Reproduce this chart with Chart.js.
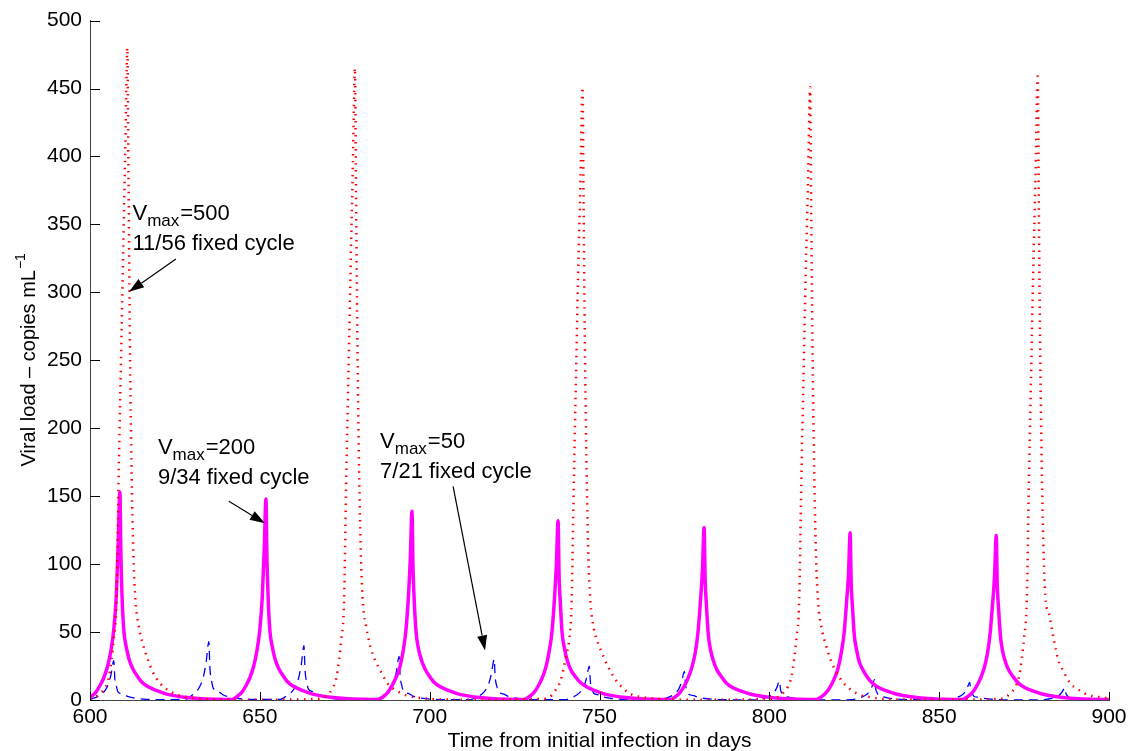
<!DOCTYPE html>
<html>
<head>
<meta charset="utf-8">
<script src="https://cdn.jsdelivr.net/npm/chart.js@4.4.0/dist/chart.umd.min.js"></script>
<style>
  html, body { margin: 0; padding: 0; background: #fff; }
  #wrap { width: 1135px; height: 751px; position: relative; }
</style>
</head>
<body>
<div id="wrap"><canvas id="viralChart"></canvas></div>
<script>
// Vmax = 500, 11/56 fixed cycle (red dotted)
const redDays = [
  600, 601, 603, 604.5, 605.5, 606.3, 607, 607.8, 608.4, 609, 609.7, 610.4, 611, 611.3, 611.7, 612.2, 612.8, 613.4, 614.3, 615.7, 617, 618.4, 620.7, 622.8, 625.5, 629, 633, 646,
  667, 668, 670, 671.5, 672.5, 673.3, 674, 674.8, 675.4, 676, 676.7, 677.4, 678, 678.3, 678.7, 679.2, 679.8, 680.4, 681.3, 682.7, 684, 685.4, 687.7, 689.8, 692.5, 696, 700, 713,
  734, 735, 737, 738.5, 739.5, 740.3, 741, 741.8, 742.4, 743, 743.7, 744.4, 745, 745.3, 745.7, 746.2, 746.8, 747.4, 748.3, 749.7, 751, 752.4, 754.7, 756.8, 759.5, 763, 767, 780,
  801, 802, 804, 805.5, 806.5, 807.3, 808, 808.8, 809.4, 810, 810.7, 811.4, 812, 812.3, 812.7, 813.2, 813.8, 814.4, 815.3, 816.7, 818, 819.4, 821.7, 823.8, 826.5, 830, 834, 846,
  868, 869, 871, 872.5, 873.5, 874.3, 875, 875.8, 876.4, 877, 877.7, 878.4, 879, 879.3, 879.7, 880.2, 880.8, 881.4, 882.3, 883.7, 885, 886.4, 888.7, 890.8, 893.5, 897, 900
];
const redLoad = [
  0.8, 1.2, 5, 9, 16, 29, 45, 73, 160, 235, 320, 408, 480, 394, 278, 175, 105, 73, 55, 40, 30, 21, 12, 7.5, 4, 2, 0.8, 0.2,
  0.8, 1.5, 4, 9, 16, 29, 45, 73, 158, 230, 315, 395, 465, 381, 270, 172, 103, 70, 54, 38, 29, 22, 12, 7.5, 4, 2, 0.8, 0.2,
  1, 1.5, 7, 14, 24, 34, 43, 73, 155, 228, 312, 383, 451, 370, 262, 168, 100, 70, 53, 41, 33, 25, 15, 9, 4, 2, 0.9, 0.2,
  0.8, 1.4, 5, 10, 17, 30, 46, 74, 158, 230, 313, 383, 451, 370, 262, 170, 102, 71, 54, 40, 30, 22, 13, 8, 4, 2, 0.8, 0.2,
  0.8, 1.4, 5, 10, 17, 30, 46, 74, 158, 232, 316, 390, 459, 376, 266, 173, 104, 72, 64, 45, 30, 22, 12, 8, 4, 2.2, 1.2
];

// Vmax = 200, 9/34 fixed cycle (magenta solid)
const magDays = [
  600, 601.8, 603, 604, 605.2, 606.2, 607, 607.7, 608.3, 608.8, 609.1, 609.5, 610, 610.6, 611.5, 612.6, 613.8, 615.3, 617.3, 619.5, 622.3, 624.8, 627.8, 631.8, 636.8,
  641.8, 643.3, 644.8, 646, 647, 648.2, 649.2, 650, 650.7, 651.3, 651.8, 652.1, 652.5, 653, 653.6, 654.5, 655.6, 656.8, 658.3, 660.3, 662.5, 665.3, 667.8, 670.8, 674.8, 679.8,
  684.8, 686.3, 687.8, 689, 690, 691.2, 692.2, 693, 693.7, 694.3, 694.8, 695.1, 695.5, 696, 696.6, 697.5, 698.6, 699.8, 701.3, 703.3, 705.5, 708.3, 710.8, 713.8, 717.8, 722.8,
  727.8, 729.3, 730.8, 732, 733, 734.2, 735.2, 736, 736.7, 737.3, 737.8, 738.1, 738.5, 739, 739.6, 740.5, 741.6, 742.8, 744.3, 746.3, 748.5, 751.3, 753.8, 756.8, 760.8, 765.8,
  770.8, 772.3, 773.8, 775, 776, 777.2, 778.2, 779, 779.7, 780.3, 780.8, 781.1, 781.5, 782, 782.6, 783.5, 784.6, 785.8, 787.3, 789.3, 791.5, 794.3, 796.8, 799.8, 803.8, 808.8,
  813.8, 815.3, 816.8, 818, 819, 820.2, 821.2, 822, 822.7, 823.3, 823.8, 824.1, 824.5, 825, 825.6, 826.5, 827.6, 828.8, 830.3, 832.3, 834.5, 837.3, 839.8, 842.8, 846.8, 851.8,
  856.8, 858.3, 859.8, 861, 862, 863.2, 864.2, 865, 865.7, 866.3, 866.8, 867.1, 867.5, 868, 868.6, 869.5, 870.6, 871.8, 873.3, 875.3, 877.5, 880.3, 882.8, 885.8, 889.8, 894.8, 900
];
const magLoad = [
  1.8, 6, 11, 16, 25, 37, 52, 75, 115, 153, 107, 72, 50, 40, 30, 23, 18, 13, 9.5, 7, 4.5, 3.2, 2, 1.1, 0.5,
  0.3, 2.5, 6, 11, 16, 25, 37, 52, 75, 111, 148, 104, 72, 50, 40, 30, 23, 18, 13, 9.5, 7, 4.5, 3.2, 2, 1.1, 0.5,
  0.3, 2.4, 6, 11, 16, 24, 36, 51, 74, 104, 139, 97, 71, 50, 39, 30, 23, 18, 13, 9.5, 7, 4.5, 3.2, 2, 1.1, 0.5,
  0.3, 2.4, 5.8, 10.5, 15.5, 24, 36, 50, 73, 99, 132, 92, 70, 49, 39, 29, 22, 17.5, 13, 9.5, 7, 4.5, 3.2, 2, 1.1, 0.5,
  0.3, 2.3, 5.8, 10.5, 15.5, 24, 35, 50, 72, 95, 127, 89, 69, 49, 38, 29, 22, 17.5, 12.5, 9, 6.8, 4.4, 3.1, 2, 1.1, 0.5,
  0.3, 2.3, 5.6, 10, 15, 23, 35, 49, 71, 92, 123, 86, 68, 48, 38, 28, 22, 17, 12.5, 9, 6.8, 4.4, 3.1, 2, 1.1, 0.5,
  0.3, 2.3, 5.6, 10, 15, 23, 34, 49, 70, 91, 121, 85, 67, 48, 37, 28, 21.5, 17, 12.5, 9, 6.8, 4.4, 3.1, 2, 1.1, 0.5, 0.35
];

// Vmax = 50, 7/21 fixed cycle (blue dashed)
const blueDays = [
  600, 601.5, 603.4, 604.5, 605.4, 606.2, 607, 607.3, 607.8, 608.3, 609.7, 611.1, 613, 615.6, 619,
  628, 629.5, 631.4, 632.5, 633.4, 634.2, 635, 635.3, 635.8, 636.3, 637.7, 639.1, 641, 643.6, 647,
  656, 657.5, 659.4, 660.5, 661.4, 662.2, 663, 663.3, 663.8, 664.3, 665.7, 667.1, 669, 671.6, 675,
  684, 685.5, 687.4, 688.5, 689.4, 690.2, 691, 691.3, 691.8, 692.3, 693.7, 695.1, 697, 699.6, 703,
  712, 713.5, 715.4, 716.5, 717.4, 718.2, 719, 719.3, 719.8, 720.3, 721.7, 723.1, 725, 727.6, 731,
  740, 741.5, 743.4, 744.5, 745.4, 746.2, 747, 747.3, 747.8, 748.3, 749.7, 751.1, 753, 755.6, 759,
  768, 769.5, 771.4, 772.5, 773.4, 774.2, 775, 775.3, 775.8, 776.3, 777.7, 779.1, 781, 783.6, 787,
  796, 797.5, 799.4, 800.5, 801.4, 802.2, 803, 803.3, 803.8, 804.3, 805.7, 807.1, 809, 811.6, 815,
  824, 825.5, 827.4, 828.5, 829.4, 830.2, 831, 831.3, 831.8, 832.3, 833.7, 835.1, 837, 839.6, 843,
  852, 853.5, 855.4, 856.5, 857.4, 858.2, 859, 859.3, 859.8, 860.3, 861.7, 863.1, 865, 867.6, 871,
  880, 881.5, 883.4, 884.5, 885.4, 886.2, 887, 887.3, 887.8, 888.3, 889.7, 891.1, 893, 895.6, 900
];
const blueLoad = [
  0.3, 1.7, 4.4, 7.3, 11.6, 18.9, 29, 16, 9.6, 5.8, 4.4, 2.6, 1.5, 0.7, 0.3,
  0.4, 2.6, 6.5, 10.8, 17.2, 28, 43, 23.7, 14.2, 8.6, 6.5, 3.9, 2.2, 1.1, 0.4,
  0.4, 2.4, 6, 10, 16, 26, 40, 22, 13.2, 8, 6, 3.6, 2, 1, 0.4,
  0.3, 1.9, 4.8, 8, 12.8, 20.8, 32, 17.6, 10.6, 6.4, 4.8, 2.9, 1.6, 0.8, 0.3,
  0.3, 1.8, 4.5, 7.5, 12, 19.5, 30, 16.5, 9.9, 6, 4.5, 2.7, 1.5, 0.8, 0.3,
  0.3, 1.5, 3.8, 6.3, 10, 16.3, 25, 13.8, 8.3, 5, 3.8, 2.3, 1.3, 0.6, 0.3,
  0.2, 1.3, 3.2, 5.3, 8.4, 13.7, 21, 11.6, 6.9, 4.2, 3.2, 1.9, 1.1, 0.5, 0.2,
  0.1, 0.8, 2.1, 3.5, 5.6, 9.1, 14, 7.7, 4.6, 2.8, 2.1, 1.3, 0.7, 0.4, 0.1,
  0.2, 0.9, 2.3, 3.8, 6, 9.8, 15, 8.3, 5, 3, 2.3, 1.4, 0.8, 0.4, 0.2,
  0.1, 0.8, 2, 3.3, 5.2, 8.5, 13, 7.2, 4.3, 2.6, 2, 1.2, 0.7, 0.3, 0.1,
  0.1, 0.5, 1.4, 2.3, 3.6, 5.9, 9, 5, 3, 1.8, 1.4, 0.8, 0.5, 0.2, 0.1
];

const xTicks = [600, 650, 700, 750, 800, 850, 900];
const yTicks = [0, 50, 100, 150, 200, 250, 300, 350, 400, 450, 500];

// text notes, placed in data units: [day, load]
const notes = [
  { at: [612.5, 353], value: "500", cycle: "11/56 fixed cycle", tail: [625.3, 324.6], tip: [611.5, 300.4] },
  { at: [620.0, 181.3], value: "200", cycle: "9/34 fixed cycle", tail: [640.9, 146.2], tip: [651.5, 130.1] },
  { at: [685.4, 185.7], value: "50", cycle: "7/21 fixed cycle", tail: [706.9, 157.2], tip: [716.3, 36.5] }
];

const FONT = '"Liberation Sans", Arial, sans-serif';

function toPoints(days, load) {
  return days.map((d, i) => ({ x: d, y: load[i] }));
}

function arrow(ctx, x1, y1, x2, y2) {
  const ang = Math.atan2(y2 - y1, x2 - x1);
  const len = 15, half = 5;
  const bx = x2 - len * Math.cos(ang), by = y2 - len * Math.sin(ang);
  ctx.beginPath();
  ctx.moveTo(x1, y1);
  ctx.lineTo(bx, by);
  ctx.stroke();
  ctx.beginPath();
  ctx.moveTo(x2, y2);
  ctx.lineTo(bx + half * Math.sin(ang), by - half * Math.cos(ang));
  ctx.lineTo(bx - half * Math.sin(ang), by + half * Math.cos(ang));
  ctx.closePath();
  ctx.fill();
}

const overlay = {
  id: "overlay",
  afterDraw(chart) {
    const ctx = chart.ctx;
    const xs = chart.scales.x, ys = chart.scales.y;
    const area = chart.chartArea;
    ctx.save();

    // tick marks pointing into the plot
    ctx.strokeStyle = "#000";
    ctx.lineWidth = 1;
    yTicks.forEach(v => {
      const py = Math.round(ys.getPixelForValue(v)) + 0.5;
      ctx.beginPath();
      ctx.moveTo(area.left, py);
      ctx.lineTo(area.left + 10, py);
      ctx.stroke();
    });
    xTicks.forEach(v => {
      const px = Math.round(xs.getPixelForValue(v)) + 0.5;
      ctx.beginPath();
      ctx.moveTo(px, area.bottom);
      ctx.lineTo(px, area.bottom - 8);
      ctx.stroke();
    });

    ctx.fillStyle = "#000";

    // x title
    ctx.font = "21px " + FONT;
    ctx.textAlign = "center";
    ctx.textBaseline = "alphabetic";
    ctx.fillText("Time from initial infection in days", (area.left + area.right) / 2, 747);

    // y title with superscript
    ctx.save();
    ctx.translate(35, (area.top + area.bottom) / 2);
    ctx.rotate(-Math.PI / 2);
    ctx.textAlign = "left";
    const main = "Viral load \u2013 copies mL";
    ctx.font = "20px " + FONT;
    const w1 = ctx.measureText(main).width;
    ctx.font = "14px " + FONT;
    const w2 = ctx.measureText("\u22121").width;
    const x0 = -(w1 + w2) / 2;
    ctx.font = "20px " + FONT;
    ctx.fillText(main, x0, 0);
    ctx.font = "14px " + FONT;
    ctx.fillText("\u22121", x0 + w1 + 1, -10);
    ctx.restore();

    // notes and arrows
    ctx.textAlign = "left";
    ctx.lineWidth = 1.2;
    notes.forEach(n => {
      const px = xs.getPixelForValue(n.at[0]);
      const py = ys.getPixelForValue(n.at[1]);
      ctx.font = "22px " + FONT;
      ctx.fillText("V", px, py);
      let cx = px + ctx.measureText("V").width;
      ctx.font = "17px " + FONT;
      ctx.fillText("max", cx, py + 6);
      cx += ctx.measureText("max").width + 1;
      ctx.font = "22px " + FONT;
      ctx.fillText("=" + n.value, cx, py);
      ctx.fillText(n.cycle, px, py + 30);

      arrow(ctx,
        xs.getPixelForValue(n.tail[0]), ys.getPixelForValue(n.tail[1]),
        xs.getPixelForValue(n.tip[0]), ys.getPixelForValue(n.tip[1]));
    });

    ctx.restore();
  }
};

let ctx = document.getElementById("viralChart").getContext("2d");
let viralChart = new Chart(ctx, {
  type: "line",
  data: {
    datasets: [
      {
        label: "Vmax=500",
        data: toPoints(redDays, redLoad),
        borderColor: "#ff0000",
        borderWidth: 2.5,
        borderDash: [1.5, 5.5],
        borderCapStyle: "butt",
        pointRadius: 0,
        cubicInterpolationMode: "monotone",
        order: 0
      },
      {
        label: "Vmax=200",
        data: toPoints(magDays, magLoad),
        borderColor: "#ff00ff",
        borderWidth: 3.5,
        pointRadius: 0,
        cubicInterpolationMode: "monotone",
        order: 1
      },
      {
        label: "Vmax=50",
        data: toPoints(blueDays, blueLoad),
        borderColor: "#0000ff",
        borderWidth: 1.3,
        borderDash: [9, 6],
        pointRadius: 0,
        cubicInterpolationMode: "monotone",
        order: 2
      }
    ]
  },
  options: {
    responsive: true,
    maintainAspectRatio: false,
    animation: false,
    devicePixelRatio: 1,
    layout: { padding: { top: 16, right: 26, left: 0, bottom: 0 } },
    plugins: {
      legend: { display: false },
      tooltip: { enabled: false }
    },
    scales: {
      x: {
        type: "linear",
        min: 600,
        max: 900,
        afterBuildTicks: (scale) => { scale.ticks = xTicks.map(v => ({ value: v })); },
        afterFit: (scale) => { scale.height = 51; },
        ticks: { color: "#000", font: { family: FONT, size: 21 }, padding: 5, maxRotation: 0 },
        grid: { drawOnChartArea: false, drawTicks: false },
        border: { color: "#444", width: 1 }
      },
      y: {
        min: 0,
        max: 500,
        afterBuildTicks: (scale) => { scale.ticks = yTicks.map(v => ({ value: v })); },
        afterFit: (scale) => { scale.width = 90; },
        ticks: { color: "#000", font: { family: FONT, size: 21 }, padding: 8 },
        grid: { drawOnChartArea: false, drawTicks: false },
        border: { color: "#444", width: 1 }
      }
    }
  },
  plugins: [overlay]
});
</script>
</body>
</html>
